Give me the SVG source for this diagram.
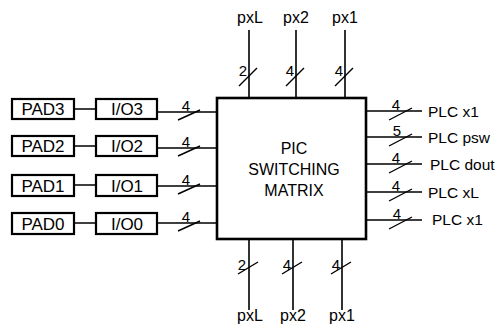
<svg xmlns="http://www.w3.org/2000/svg" width="502" height="326" viewBox="0 0 502 326">
<style>
text{font-family:"Liberation Sans",Arial,sans-serif;fill:#000}
.box{fill:#fff;stroke:#000;stroke-width:2.2}
.main{fill:#fff;stroke:#000;stroke-width:2.6}
.lbl{font-size:16px;text-anchor:middle}
.pad{font-size:17px;text-anchor:middle}
.plc{font-size:15.5px}
.num{font-size:15px;text-anchor:middle}
.ve{font-size:15px;text-anchor:end}
.w{stroke:#000;stroke-width:1.6;fill:none}
.s{stroke:#000;stroke-width:1.4;fill:none}
</style>
<rect width="502" height="326" fill="#fff"/>
<g id="connectors">
  <path class="w" d="M74 109H96M74 146H96M74 185H96M74 223H96"/>
  <path class="w" d="M157 112H217M157 148H217M157 186H217M157 223H217"/>
  <path class="s" d="M178 120L200 110M178 156L200 146M178 194L200 184M178 231L200 221"/>
  <text class="num" x="186" y="111">4</text>
  <text class="num" x="186" y="147">4</text>
  <text class="num" x="186" y="185">4</text>
  <text class="num" x="186" y="222">4</text>
  <path class="w" d="M249 30V98M296 30V98M345 30V98"/>
  <path class="s" d="M239 86L257 68M286 86L304 68M335 86L353 68"/>
  <text class="ve" x="247" y="76">2</text>
  <text class="ve" x="294" y="76">4</text>
  <text class="ve" x="343" y="76">4</text>
  <path class="w" d="M249 239V310M293 239V310M342 239V310"/>
  <path class="s" d="M238 274L258 262M282 274L302 262M331 274L351 262"/>
  <text class="ve" x="246" y="270">2</text>
  <text class="ve" x="291" y="270">4</text>
  <text class="ve" x="340" y="270">4</text>
  <path class="w" d="M366 111H422M366 137H422M366 164H422M366 192H422M366 220H422"/>
  <path class="s" d="M389 120L412 108M389 146L412 134M389 173L412 161M389 201L412 189M389 229L412 217"/>
  <text class="num" x="396" y="110">4</text>
  <text class="num" x="397" y="136">5</text>
  <text class="num" x="396" y="163">4</text>
  <text class="num" x="396" y="191">4</text>
  <text class="num" x="397" y="219">4</text>
</g>
<g id="pad3"><rect class="box" x="12" y="99" width="62" height="20"/><text class="pad" x="43" y="115">PAD3</text></g>
<g id="pad2"><rect class="box" x="12" y="136" width="62" height="20"/><text class="pad" x="43" y="152">PAD2</text></g>
<g id="pad1"><rect class="box" x="12" y="175" width="62" height="21"/><text class="pad" x="43" y="191.5">PAD1</text></g>
<g id="pad0"><rect class="box" x="12" y="213" width="62" height="21"/><text class="pad" x="43" y="229.5">PAD0</text></g>
<g id="io3"><rect class="box" x="96" y="99" width="61" height="20"/><text class="pad" x="127" y="115">I/O3</text></g>
<g id="io2"><rect class="box" x="96" y="136" width="61" height="20"/><text class="pad" x="127" y="152">I/O2</text></g>
<g id="io1"><rect class="box" x="96" y="175" width="61" height="21"/><text class="pad" x="127" y="191.5">I/O1</text></g>
<g id="io0"><rect class="box" x="96" y="213" width="61" height="21"/><text class="pad" x="127" y="229.5">I/O0</text></g>
<g id="matrix">
  <rect class="main" x="217" y="98" width="149" height="141"/>
  <text class="lbl" x="294" y="154">PIC</text>
  <text class="lbl" x="294" y="175">SWITCHING</text>
  <text class="lbl" x="294" y="196">MATRIX</text>
</g>
<g id="top-labels">
  <text class="lbl" x="250" y="23">pxL</text>
  <text class="lbl" x="296" y="23">px2</text>
  <text class="lbl" x="345" y="23">px1</text>
</g>
<g id="bottom-labels">
  <text class="lbl" x="250" y="321">pxL</text>
  <text class="lbl" x="293" y="321">px2</text>
  <text class="lbl" x="342" y="321">px1</text>
</g>
<g id="right-labels">
  <text class="plc" x="428" y="117">PLC x1</text>
  <text class="plc" x="428" y="143">PLC psw</text>
  <text class="plc" x="430" y="170">PLC dout</text>
  <text class="plc" x="428" y="198">PLC xL</text>
  <text class="plc" x="432" y="225">PLC x1</text>
</g>
</svg>
